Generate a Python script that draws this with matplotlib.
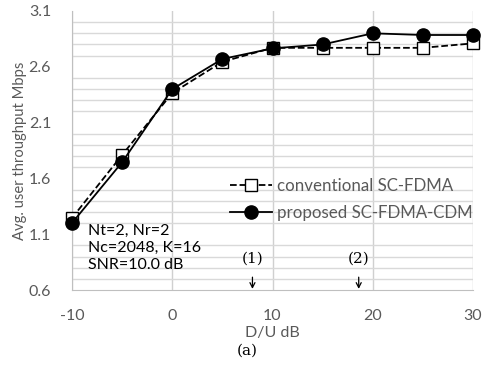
import matplotlib.pyplot as plt

du_db = [-10, -5, 0, 5, 10, 15, 20, 25, 30]
conventional = [1.245, 1.81, 2.365, 2.645, 2.77, 2.77, 2.77, 2.77, 2.81]
proposed = [1.20, 1.745, 2.40, 2.67, 2.765, 2.80, 2.90, 2.885, 2.885]

plt.rcParams['font.family'] = ['Lato', 'DejaVu Sans']
plt.rcParams['axes.unicode_minus'] = False

fig = plt.figure(figsize=(4.92, 3.66), dpi=100)
ax = fig.add_axes([72 / 492, 1 - 290 / 366, 401 / 492, 279 / 366])

ax.set_xlim(-10, 30)
ax.set_ylim(0.6, 3.1)
ax.set_xticks([-10, 0, 10, 20, 30])
ax.set_yticks([0.6, 1.1, 1.6, 2.1, 2.6, 3.1])
ax.set_yticks([0.6 + 0.1 * i for i in range(26)], minor=True)
ax.grid(True, which='major', axis='x', color='#d0d0d0', lw=1)
ax.grid(True, which='minor', axis='y', color='#d9d9d9', lw=1)
ax.tick_params(which='both', length=0, colors='#595959', labelsize=11.5)
ax.tick_params(axis='x', pad=14)
ax.tick_params(axis='y', pad=15)
for s in ['top', 'right']:
    ax.spines[s].set_visible(False)
for s in ['left', 'bottom']:
    ax.spines[s].set_color('#bfbfbf')
ax.set_axisbelow(True)

ax.plot(du_db, conventional, color='black', ls='--', lw=1.3, marker='s', ms=8,
        mfc='white', mec='black', mew=1, label='conventional SC-FDMA', clip_on=False, zorder=3)
ax.plot(du_db, proposed, color='black', ls='-', lw=1.3, marker='o', ms=9.5,
        mfc='black', mec='black', label='proposed SC-FDMA-CDM', clip_on=False, zorder=4)

ax.set_xlabel('D/U dB', fontsize=11.5, color='#595959', labelpad=2)
ax.set_ylabel('Avg. user throughput Mbps', fontsize=10.6, color='#595959', labelpad=1)

leg = ax.legend(loc='upper left', bbox_to_anchor=(0.393, 0.40), frameon=False, fontsize=12.2,
                handlelength=2.5, labelspacing=0.65, borderaxespad=0, borderpad=0,
                handletextpad=0.3)
for t in leg.get_texts():
    t.set_color('#595959')

ax.text(-8.4, 0.976, 'Nt=2, Nr=2\nNc=2048, K=16\nSNR=10.0 dB', fontsize=11.5,
        color='black', linespacing=1.25, va='center')

for x0, lab in [(8.0, '(1)'), (18.6, '(2)')]:
    ax.text(x0, 0.885, lab, ha='center', va='center', fontsize=11, family='DejaVu Serif')
    ax.annotate('', xy=(x0, 0.61), xytext=(x0, 0.715),
                arrowprops=dict(arrowstyle='->,head_length=0.35,head_width=0.18',
                                color='black', lw=0.9, shrinkA=0, shrinkB=0))

fig.text(247 / 492, 1 - 351 / 366, '(a)', ha='center', va='center', fontsize=11,
         family='DejaVu Serif')

fig.savefig('out.png', dpi=100)
